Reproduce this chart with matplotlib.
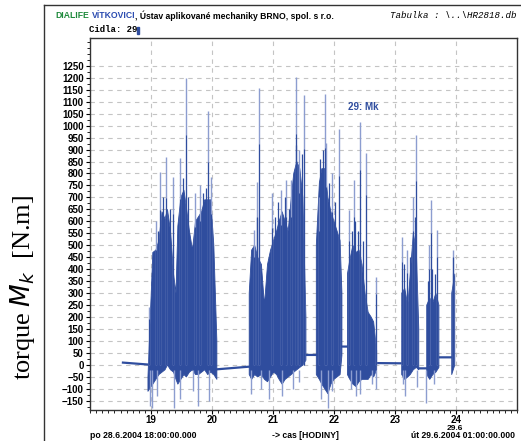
import matplotlib
matplotlib.use("Agg")
import matplotlib.pyplot as plt
from matplotlib.lines import Line2D
import numpy as np

# hours since midnight 28.6.2004
flat_t = [18.54, 18.95, np.nan, 20.08, 20.61, np.nan, 21.54, 21.71, np.nan,
          22.13, 22.22, np.nan, 22.70, 23.11, np.nan, 23.39, 23.52, np.nan,
          23.72, 23.93]
flat_v = [10, 2, np.nan, -18, -7, np.nan, 42, 42, np.nan,
          77, 77, np.nan, 8, 7, np.nan, -14, -14, np.nan,
          32, 32]

# dense body of the signal (upper / lower envelope)
body_t = [18.95, 19.03, 19.08, 19.13, 19.18, 19.23, 19.27, 19.32, 19.37, 19.41,
          19.44, 19.49, 19.54, 19.58, 19.63, 19.68, 19.73, 19.78, 19.83, 19.88,
          19.93, 19.98, 20.03, 20.08, np.nan,
          20.61, 20.65, 20.70, 20.75, 20.81, 20.86, 20.91, 20.96, 21.01, 21.06,
          21.10, 21.15, 21.20, 21.25, 21.30, 21.34, 21.39, 21.44, 21.49, 21.54, np.nan,
          21.71, 21.76, 21.80, 21.85, 21.90, 21.95, 22.00, 22.05, 22.10, 22.13, np.nan,
          22.22, 22.26, 22.31, 22.36, 22.41, 22.46, 22.51, 22.56, 22.61, 22.65, 22.70, np.nan,
          23.11, 23.16, 23.21, 23.25, 23.30, 23.35, 23.39, np.nan,
          23.52, 23.57, 23.62, 23.67, 23.72, np.nan,
          23.93, 23.98]
body_top = [-50, 470, 480, 520, 640, 610, 650, 560, 380, 300,
            580, 700, 730, 660, 560, 480, 600, 620, 640, 690,
            690, 690, 500, 100, np.nan,
            300, 480, 500, 450, 420, 250, 420, 480, 520, 560,
            600, 640, 600, 560, 700, 800, 850, 820, 700, 200, np.nan,
            500, 760, 820, 820, 700, 640, 600, 560, 520, 300, np.nan,
            380, 440, 500, 470, 480, 420, 300, 220, 200, 180, 60, np.nan,
            300, 320, 250, 380, 550, 480, 150, np.nan,
            250, 280, 260, 300, 250, np.nan,
            300, 380]
body_bot = [-110, -80, -60, -40, -30, -20, 0, -20, -30, -60,
            -80, -60, -40, -50, -30, -20, -40, -40, -30, -20,
            -40, -30, -40, -60, np.nan,
            -40, -60, -40, -50, -40, -60, -70, -50, -30, -40,
            -60, -80, -60, -50, -40, -30, -20, -10, 0, 20, np.nan,
            -40, -60, -80, -100, -120, -80, -60, -50, -40, 40, np.nan,
            -40, -60, -80, -90, -70, -60, -60, -60, -40, -50, -20, np.nan,
            -40, -60, -50, -40, -20, -10, -20, np.nan,
            -40, -60, -40, -30, -10, np.nan,
            -40, 0]

# tall isolated peaks (drawn light)
peak_t = [18.964, 19.078, 19.155, 19.242, 19.356, 19.482, 19.569, 19.716, 19.797,
          19.928, 19.989, 20.696, 20.734, 20.766, 20.990, 21.137, 21.214, 21.296,
          21.377, 21.431, 21.513, 21.758, 21.856, 21.877, 21.971, 22.074, 22.248,
          22.330, 22.423, 22.520, 22.685, 23.119, 23.191, 23.294, 23.348, 23.556,
          23.593, 23.691, 23.948]
peak_v = [242, 600, 808, 870, 787, 865, 1200, 720, 750,
          1059, 787, 565, 766, 1156, 717, 730, 774, 774,
          1205, 900, 1128, 700, 1132, 928, 800, 985, 647,
          773, 1017, 886, 369, 536, 480, 700, 961, 501,
          690, 564, 480]

# medium peaks inside the bursts (drawn dark)
mid_t = [19.11, 19.19, 19.31, 19.52, 19.61, 19.85, 19.90, 20.74, 21.04, 21.09,
         21.19, 21.27, 21.38, 21.47, 21.77, 21.82, 21.92, 22.02, 22.30, 22.35,
         22.40, 22.48, 23.15, 23.24, 23.32, 23.54, 23.61, 23.65, 23.95]
mid_v = [560, 700, 650, 780, 700, 720, 740, 620, 620, 680,
         700, 650, 920, 880, 860, 900, 760, 680, 560, 600,
         560, 520, 420, 450, 620, 350, 400, 380, 450]

# negative peaks
dip_t = [18.98, 19.013, 19.095, 19.373, 19.471, 19.683, 19.765, 19.944, 20.647,
         20.810, 20.941, 21.154, 21.333, 21.431, 21.791, 21.905, 21.971, 22.281,
         22.363, 22.428, 22.624, 22.690, 23.131, 23.163, 23.359, 23.507, 23.64]
dip_v = [-170, -180, -130, -180, -140, -110, -170, -150, -120,
         -100, -140, -130, -100, -70, -140, -180, -110, -100,
         -130, -120, -80, -100, -80, -130, -90, -160, -80]

y_ticks = list(range(-150, 1251, 50))
x_ticks = [19, 20, 21, 22, 23, 24]

blue = '#2f4d9e'
light = '#8c9dd0'
sans = 'Liberation Sans'

fig = plt.figure(figsize=(5.21, 4.41), dpi=100)
ax = fig.add_axes([90/521, 31/441, 427/521, 372/441])
ax.set_axisbelow(True)

ax.plot(flat_t, flat_v, color=blue, lw=1.6)
ax.fill_between(body_t, body_bot, body_top, color=blue, lw=0.6, edgecolor=blue)
ax.vlines(peak_t, 0, peak_v, color=light, lw=1.0)
ax.vlines(peak_t, 0, np.array(peak_v) * 0.8, color=blue, lw=0.8)
ax.vlines(mid_t, 0, mid_v, color=blue, lw=0.9)
ax.vlines(dip_t, -20, dip_v, color=light, lw=1.0)

ax.set_xlim(18, 25)
ax.set_ylim(-188, 1366)
ax.set_yticks(y_ticks)
ax.set_yticks(np.arange(-175, 1366, 25), minor=True)
ax.set_xticks(x_ticks)
ax.set_xticks(np.arange(18, 25.01, 0.1), minor=True)
ax.grid(True, which='major', color='#c4c4c4', ls=(0, (4, 4)), lw=0.8)
ax.tick_params(which='major', length=3, width=0.8, direction='out')
ax.tick_params(which='minor', length=2, width=0.6, direction='out')
ax.tick_params(axis='y', labelsize=7, pad=1.5)
ax.tick_params(axis='x', labelsize=7, pad=0.5)
for lab in ax.get_yticklabels() + ax.get_xticklabels():
    lab.set_family(sans)
    lab.set_fontweight('bold')
for sp in ax.spines.values():
    sp.set_linewidth(1.0)
    sp.set_color('#333333')

ax.set_ylabel(r'torque $M_k$  [N.m]', family='Liberation Serif', fontsize=19)
ax.yaxis.set_label_coords(-0.125, 0.33)

fig.text(348/521, 1 - 107/441, '29: Mk', color=blue, fontsize=7, fontweight='bold',
         family=sans, va='center')

# outer frame of the window
fig.add_artist(Line2D([44/521, 44/521], [0, 1 - 5/441], color='#333333', lw=1))
fig.add_artist(Line2D([44/521, 1], [1 - 5/441, 1 - 5/441], color='#333333', lw=1))

# header, pieces chained one after another
hy = 1 - 16/441
renderer = fig.canvas.get_renderer()
x0 = 55
for txt, col in [('DIALIFE', '#1f8a3c'), ('VÍTKOVICI', '#2a4bb0'),
                 (', Ústav aplikované mechaniky BRNO, spol. s r.o.', 'black')]:
    t = fig.text(x0/521, hy, txt, color=col, fontsize=6.2, fontweight='bold',
                 family=sans, va='center')
    x0 += t.get_window_extent(renderer).width + (3 if txt == 'DIALIFE' else 0)

fig.text(517/521, hy, r'Tabulka : \..\HR2818.db', family='Liberation Mono', style='italic',
         fontsize=6.6, ha='right', va='center')
fig.text(89/521, 1 - 30/441, 'Cidla: 29', family='Liberation Mono', fontweight='bold',
         fontsize=6.5, va='center')
fig.patches.append(plt.Rectangle((137/521, 1 - 34/441), 2/521, 7/441, color=blue,
                                 transform=fig.transFigure, figure=fig))

fig.text(455/521, 1 - 432.5/441, '29.6', fontsize=6, fontweight='bold',
         family=sans, ha='center', va='bottom')
by = 0.5/441
fig.text(90/521, by, 'po 28.6.2004 18:00:00.000', fontsize=6.2, fontweight='bold',
         family=sans, va='bottom')
fig.text(305/521, by, '-> cas [HODINY]', fontsize=6.2, fontweight='bold',
         family=sans, ha='center', va='bottom')
fig.text(515/521, by, 'út 29.6.2004 01:00:00.000', fontsize=6.2, fontweight='bold',
         family=sans, ha='right', va='bottom')

fig.savefig('out.png', dpi=100)
